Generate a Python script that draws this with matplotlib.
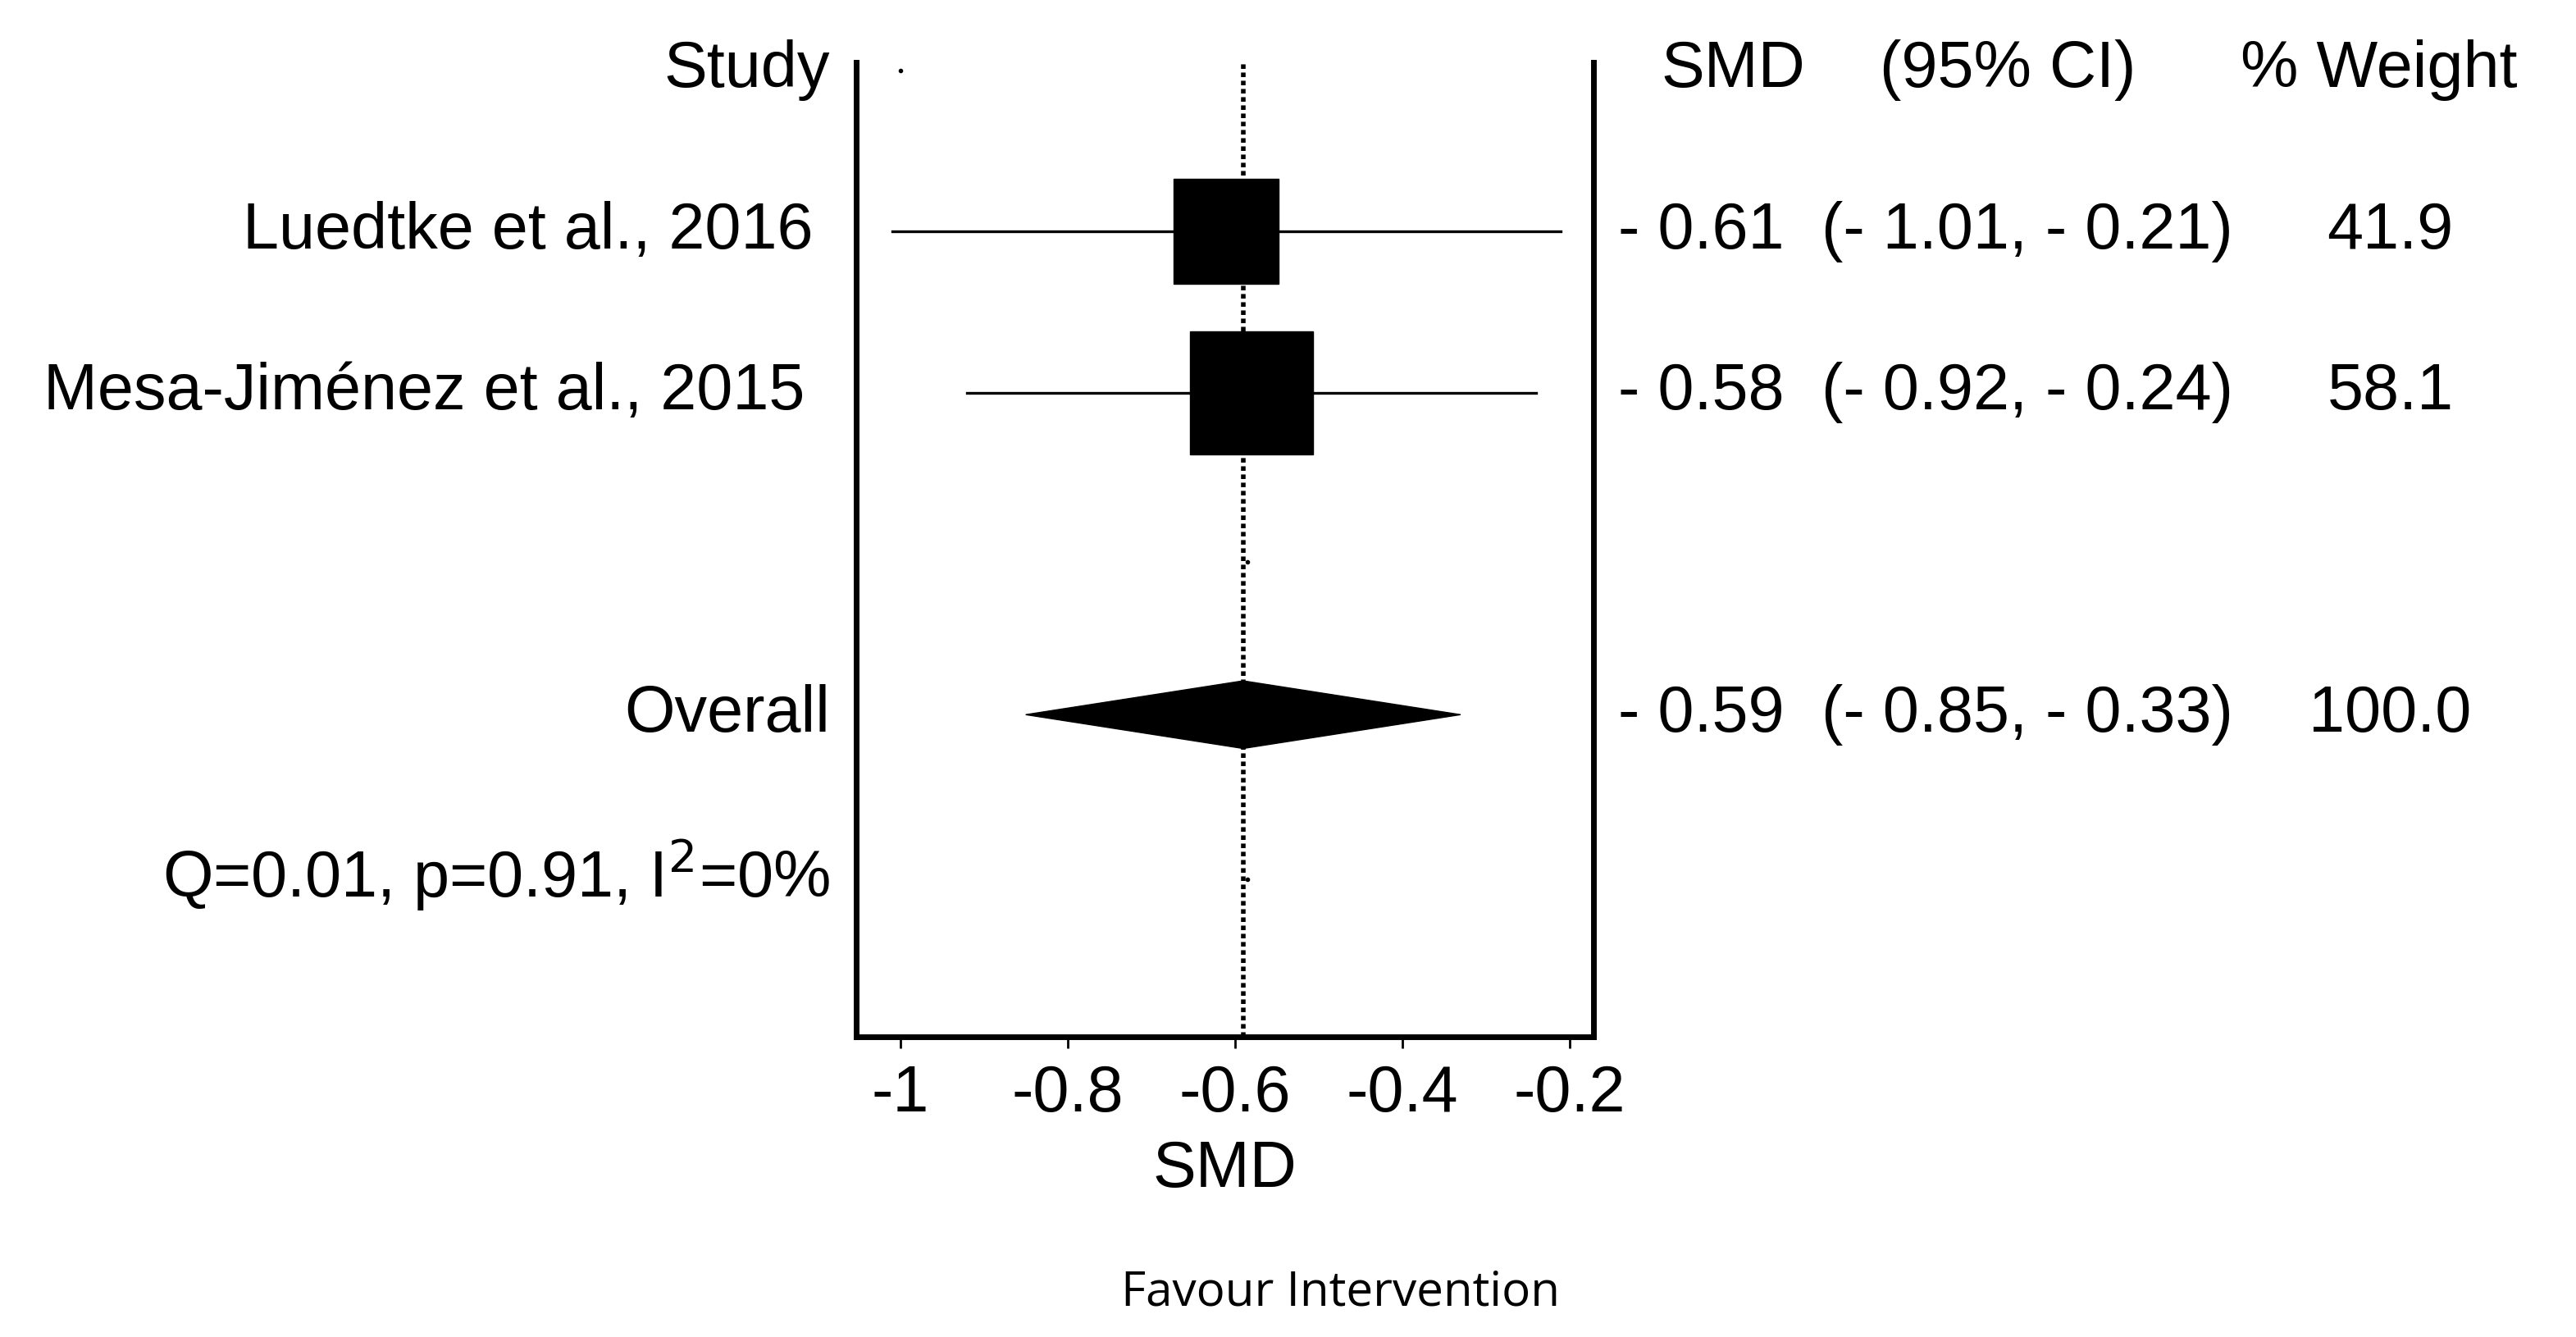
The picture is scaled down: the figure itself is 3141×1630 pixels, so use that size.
import matplotlib
matplotlib.use("Agg")
import matplotlib.pyplot as plt
import matplotlib.transforms as mt
from matplotlib.patches import Polygon
import numpy as np

plt.rcParams['font.family'] = ['Liberation Sans', 'DejaVu Sans']

# data
studies = ["Luedtke et al., 2016", "Mesa-Jiménez et al., 2015"]
smd = [-0.61, -0.58]
ci_low = [-1.01, -0.92]
ci_high = [-0.21, -0.24]
weights = [41.9, 58.1]
overall = (-0.59, -0.85, -0.33)
overall_weight = 100.0
het_label = "Q=0.01, p=0.91, I$^{2}$=0%"
xticks = [-1, -0.8, -0.6, -0.4, -0.2]

W, H = 3141, 1630
fig = plt.figure(figsize=(W / 100, H / 100), dpi=100)
ax = fig.add_axes([521 / 1568, 1 - 632 / 815, (970 - 521) / 1568, (632 - 38) / 815])
ax.set_xlim(-1.053, -0.171)
ax.set_ylim(6.0, -0.05)

lw = 2.4
# dotted reference line at overall effect
ax.axvline(overall[0], color='black', lw=4, ls=(0, (1, 0.8)), zorder=1)

for i, (m, lo, hi, w) in enumerate(zip(smd, ci_low, ci_high, weights)):
    y = i + 1
    ax.plot([lo, hi], [y, y], color='black', lw=lw, zorder=2)
    ax.plot(m, y, marker='s', color='black', ms=108 * np.sqrt(w / 58.1), zorder=3)

yo = 4
diamond = Polygon([[overall[1], yo], [overall[0], yo - 0.21], [overall[2], yo],
                   [overall[0], yo + 0.21]], closed=True, color='black', zorder=3)
ax.add_patch(diamond)

# small stray dots
ax.plot([-1.0, -0.585, -0.585], [0, 3.05, 5.02], 'k.', ms=6)

ax.spines['top'].set_visible(False)
for s in ['left', 'right', 'bottom']:
    ax.spines[s].set_linewidth(5)
ax.set_yticks([])
ax.set_xticks(xticks)
ax.set_xticklabels(['-1', '-0.8', '-0.6', '-0.4', '-0.2'])
ax.tick_params(axis='x', labelsize=57, width=2, length=10, pad=14)
ax.set_xlabel("SMD", fontsize=57, labelpad=12)

fs = 57


def fx(px):
    return px / 1568.0


blend = mt.blended_transform_factory(fig.transFigure, ax.transData)

fig.text(fx(505), 0, "Study", transform=blend, fontsize=fs, ha='right', va='center')
for i, name in enumerate(studies):
    xr = 495 if i == 0 else 490
    fig.text(fx(xr), i + 1, name, transform=blend, fontsize=fs, ha='right', va='center')
fig.text(fx(505), 4, "Overall", transform=blend, fontsize=fs, ha='right', va='center')
fig.text(fx(505), 5, het_label, transform=blend, fontsize=fs, ha='right', va='center')

# right columns
fig.text(fx(1055), 0, "SMD", transform=blend, fontsize=fs, ha='center', va='center')
fig.text(fx(1222), 0, "(95% CI)", transform=blend, fontsize=fs, ha='center', va='center')
fig.text(fx(1448), 0, "% Weight", transform=blend, fontsize=fs, ha='center', va='center')


def fmt(v):
    return "- %.2f" % abs(v) if v < 0 else "%.2f" % v


rows = list(zip(smd, ci_low, ci_high, weights)) + [(overall[0], overall[1], overall[2], overall_weight)]
ypos = [1, 2, 4]
for y, (m, lo, hi, w) in zip(ypos, rows):
    fig.text(fx(985), y, fmt(m), transform=blend, fontsize=fs, ha='left', va='center')
    fig.text(fx(1234), y, "(%s, %s)" % (fmt(lo), fmt(hi)), transform=blend, fontsize=fs,
             ha='center', va='center')
    fig.text(fx(1455), y, "%.1f" % w, transform=blend, fontsize=fs, ha='center', va='center')

fig.text(fx(816), 1 - 788 / 815, "Favour Intervention", fontsize=42, ha='center', va='center',
         family=['Open Sans', 'DejaVu Sans'])

fig.savefig("out.png", dpi=100, facecolor='white')
